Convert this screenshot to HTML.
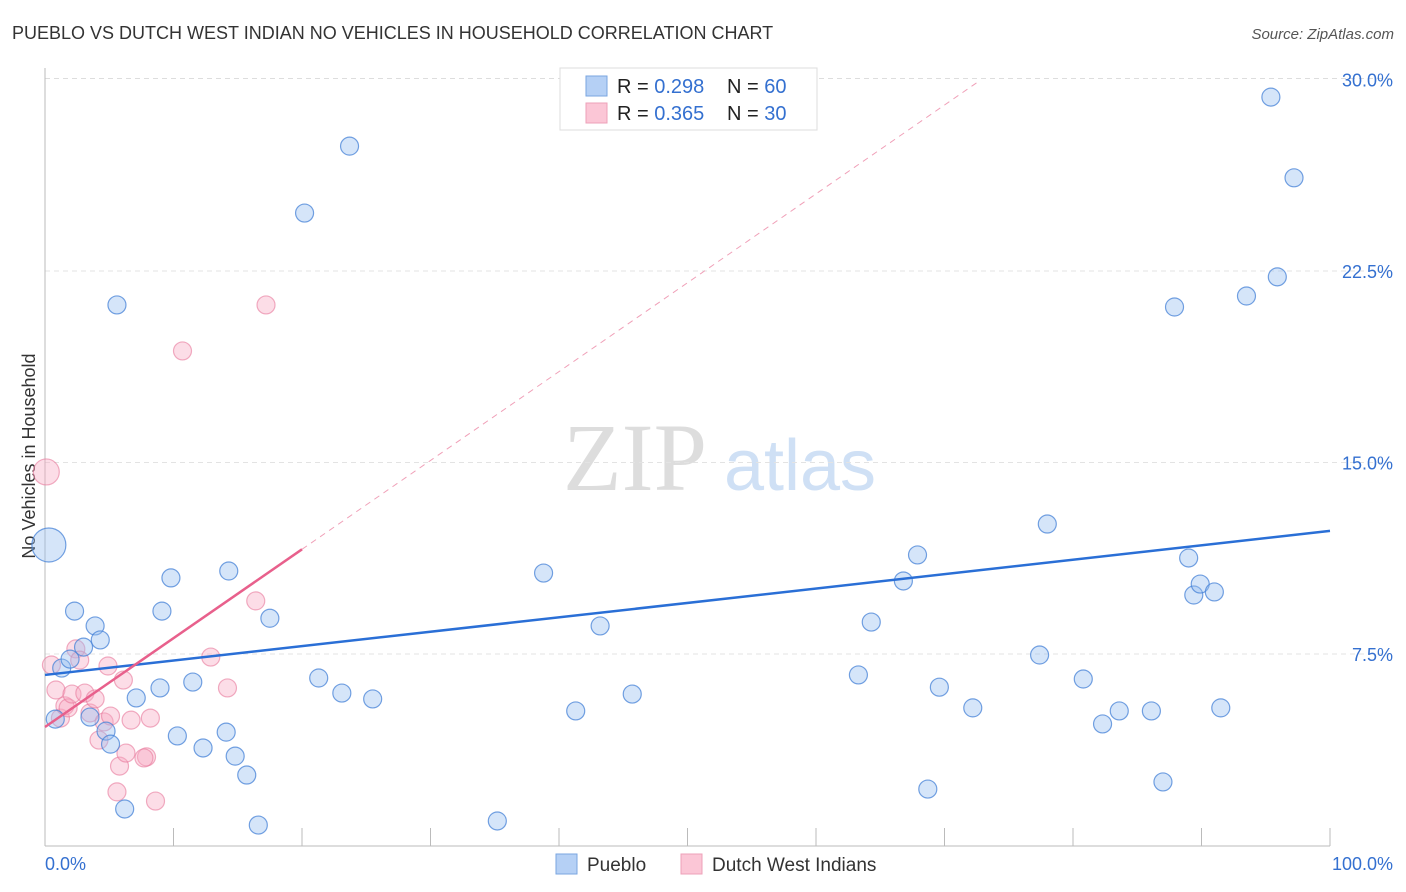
<!DOCTYPE html>
<html><head><meta charset="utf-8"><style>
html,body{margin:0;padding:0;background:#fff;width:1406px;height:892px;overflow:hidden;font-family:"Liberation Sans",sans-serif}
svg{position:absolute;left:0;top:0}
</style></head><body>
<svg id="chart" width="1406" height="892">
<text x="12" y="39" font-size="18" fill="#333">PUEBLO VS DUTCH WEST INDIAN NO VEHICLES IN HOUSEHOLD CORRELATION CHART</text>
<text x="1394" y="39" font-size="15" fill="#555" text-anchor="end" font-style="italic">Source: ZipAtlas.com</text>
<text x="35" y="456" font-size="18" fill="#333" text-anchor="middle" transform="rotate(-90 35 456)">No Vehicles in Household</text>
<g><text x="635" y="490" font-size="96" fill="#ddd" text-anchor="middle" font-family="Liberation Serif,serif">ZIP</text><text x="800" y="490" font-size="72" fill="#cfe0f5" text-anchor="middle">atlas</text></g>
<g id="grid"></g><g id="axes"></g><g id="pink"></g><g id="blue"></g><g id="lines"></g>
<g>
<rect x="560" y="68" width="257" height="62" fill="#fff" stroke="#ddd"/>
<rect x="586" y="76" width="21" height="20" fill="#b5d0f5" stroke="#7aa6e0"/>
<rect x="586" y="103" width="21" height="20" fill="#fbc6d6" stroke="#eea0b8"/>
<text x="617" y="93" font-size="20" fill="#222">R = <tspan fill="#3470d0">0.298</tspan><tspan x="727">N = </tspan><tspan fill="#3470d0">60</tspan></text>
<text x="617" y="120" font-size="20" fill="#222">R = <tspan fill="#3470d0">0.365</tspan><tspan x="727">N = </tspan><tspan fill="#3470d0">30</tspan></text>
</g>
<g>
<rect x="556" y="854" width="21" height="20" fill="#b5d0f5" stroke="#7aa6e0"/>
<text x="587" y="871" font-size="19" fill="#333">Pueblo</text>
<rect x="681" y="854" width="21" height="20" fill="#fbc6d6" stroke="#eea0b8"/>
<text x="712" y="871" font-size="19" fill="#333">Dutch West Indians</text>
</g>
</svg>
<script>
const yTicks=[7.5,15,22.5,30];
const yTickLabels=["7.5%","15.0%","22.5%","30.0%"];
const xTickLabels=["0.0%","100.0%"];
const blueX=[0.3,0.8,1.3,1.95,2.3,3.0,3.9,4.3,3.5,4.75,5.1,5.6,6.2,7.1,8.95,9.1,9.8,10.3,11.5,12.3,14.1,14.3,14.8,15.7,16.6,17.5,20.2,21.3,23.1,23.7,25.5,35.2,38.8,41.3,43.2,45.7,63.3,64.3,66.8,67.9,68.7,69.6,72.2,77.4,78.0,80.8,82.3,83.6,86.1,87.0,87.9,89.0,89.4,89.9,91.0,91.5,93.5,95.4,95.9,97.2];
const blueY=[11.77,4.95,6.95,7.3,9.18,7.77,8.6,8.05,5.03,4.48,3.97,21.17,1.43,5.78,6.17,9.18,10.48,4.29,6.4,3.82,4.44,10.75,3.5,2.76,0.8,8.9,24.77,6.56,5.97,27.39,5.74,0.96,10.67,5.27,8.6,5.93,6.68,8.75,10.36,11.38,2.21,6.2,5.39,7.46,12.59,6.52,4.76,5.27,5.27,2.49,21.09,11.26,9.81,10.24,9.93,5.39,21.52,29.31,22.27,26.15];
const pinkX=[0.1,0.5,0.85,1.2,1.55,1.8,2.1,2.4,2.7,3.1,3.5,3.9,4.2,4.6,4.9,5.6,5.8,6.1,6.3,6.7,7.9,7.7,8.2,8.6,10.7,12.9,14.2,16.4,17.2,5.1];
const pinkY=[14.63,7.07,6.09,4.99,5.47,5.39,5.93,7.7,7.26,5.97,5.19,5.74,4.13,4.84,7.03,2.1,3.11,6.48,3.62,4.91,3.47,3.43,4.99,1.74,19.37,7.38,6.17,9.58,21.17,5.07];
const blueFit=[6.68,12.32];
const pinkFit=[4.64,0.348];
const X=v=>45+v*12.85, Y=v=>845.5-v*191.5/7.5;
const NS="http://www.w3.org/2000/svg";
function mk(p,t,a){const e=document.createElementNS(NS,t);for(const k in a)e.setAttribute(k,a[k]);p.appendChild(e);return e;}
const grid=document.getElementById('grid'),axes=document.getElementById('axes');
const topLine=mk(grid,'line',{x1:45,x2:1395,y1:Y(30)-1,y2:Y(30)-1,stroke:'#ddd','stroke-dasharray':'5,4'});


yTicks.forEach((t,i)=>{
 if(i<3){const g=mk(grid,'line',{x1:45,x2:1395,y1:Y(t),y2:Y(t),stroke:'#e3e3e3','stroke-dasharray':'5,4'});
 
 }
 const l=mk(axes,'text',{x:1393,y:Y(t)+(i==3?7:7),'font-size':18,fill:'#3470d0','text-anchor':'end'});
 l.textContent=yTickLabels[i];
 
 
});
mk(axes,'line',{x1:45,x2:45,y1:68,y2:846,stroke:'#bbb'});
mk(axes,'line',{x1:45,x2:1330,y1:846,y2:846,stroke:'#bbb'});
for(let i=0;i<=10;i++){const t=mk(axes,'line',{x1:X(i*10),x2:X(i*10),y1:828,y2:846,stroke:'#bbb'});
 
 }
const xl0=mk(axes,'text',{x:45,y:870,'font-size':18,fill:'#3470d0'});xl0.textContent=xTickLabels[0];


const xl1=mk(axes,'text',{x:1393,y:870,'font-size':18,fill:'#3470d0','text-anchor':'end'});xl1.textContent=xTickLabels[1];


const pg=document.getElementById('pink'),bg=document.getElementById('blue');
pinkX.forEach((x,i)=>{const c=mk(pg,'circle',{cx:X(x),cy:Y(pinkY[i]),r:i==0?13:9,fill:'rgba(248,170,195,0.4)',stroke:'rgba(232,120,155,0.6)','stroke-width':1.2});
 
 });
blueX.forEach((x,i)=>{const c=mk(bg,'circle',{cx:X(x),cy:Y(blueY[i]),r:i==0?17:9,fill:'rgba(150,190,240,0.4)',stroke:'rgba(70,130,215,0.75)','stroke-width':1.2});
 
 });
const lg=document.getElementById('lines');
const bl=mk(lg,'line',{x1:X(0),y1:Y(blueFit[0]),x2:X(100),y2:Y(blueFit[1]),stroke:'#2a6fd6','stroke-width':2.5});


const pd=mk(lg,'line',{x1:X(20),y1:Y(pinkFit[0]+pinkFit[1]*20),x2:X(72.8),y2:Y(pinkFit[0]+pinkFit[1]*72.8),stroke:'#f0a0b8','stroke-width':1,'stroke-dasharray':'6,5'});


const pl=mk(lg,'line',{x1:X(0),y1:Y(pinkFit[0]),x2:X(20),y2:Y(pinkFit[0]+pinkFit[1]*20),stroke:'#e8608c','stroke-width':2.5});


</script>
</body></html>
